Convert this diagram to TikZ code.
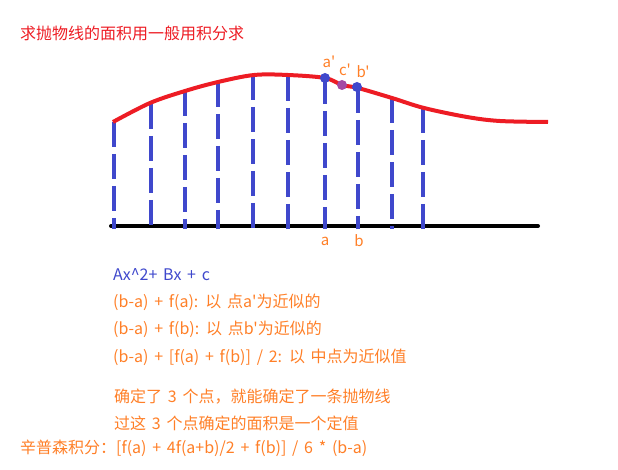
\documentclass[tikz,border=0pt]{standalone}
\usepackage{fontspec}
\newfontfamily\skfont{Noto Sans CJK SC}[WordSpace=1.6]
\usepackage{tikz}
\usetikzlibrary{positioning}
\definecolor{curvered}{HTML}{ED1C24}
\definecolor{stripblue}{HTML}{3F48CC}
\definecolor{noteorange}{HTML}{FF7F27}
\definecolor{midpurple}{HTML}{A349A4}
\tikzset{
  sk txt/.style={anchor=west, inner sep=0pt, font=\skfont\fontsize{16}{19}\selectfont},
  sk note/.style={sk txt, text=noteorange},
  sk tag/.style={inner sep=0pt, text=noteorange, font=\skfont\fontsize{15}{17}\selectfont},
  sk strip/.style={stripblue, line width=4pt, dash pattern=on 25pt off 7pt},
  sk dot/.style={circle, fill=stripblue, inner sep=0pt, minimum size=10pt},
}
\begin{document}
\begin{tikzpicture}[x=1pt, y=-1pt]
  \useasboundingbox (0,0) rectangle (618,470);
  % title
  \node[sk txt, text=curvered] (title) at (20,33) {求抛物线的面积用一般用积分求};
  % axis
  \coordinate (axl) at (111,226);
  \coordinate (axr) at (538,226);
  \draw[black, line width=4pt, line cap=round] (axl) -- (axr);
  % strips under the curve
  \foreach \n/\x/\y in {s1/114/122, s2/151/104, s3/185/91, s4/218/82, s5/253/75,
                        s6/288/76, s7/325/79, s8/358/88, s9/392/98, s10/423/108} {
    \coordinate (\n t) at (\x,\y);
    \coordinate (\n b) at (\x,229);
    \draw[sk strip] (\n t) -- (\n b);
  }
  % curve
  \draw[curvered, line width=4pt] plot[smooth, tension=0.55] coordinates {
    (113,122) (150,103) (185,91) (218,82) (254,75) (288,75) (325,78) (342,85)
    (358,88) (392,98) (424,108) (467,117) (500,121) (548,122)};
  % points a', c', b'
  \node[sk dot] (ap) at (325,78) {};
  \node[circle, fill=midpurple, inner sep=0pt, minimum width=8pt, minimum height=10pt] (cp) at (342,85) {};
  \node[sk dot] (bp) at (357,87) {};
  \node[sk tag] (apl) at (329,62) {a'};
  \node[sk tag] (cpl) at (345,70) {c'};
  \node[sk tag] (bpl) at (363,72) {b'};
  \node[sk tag] (al) at (325,241) {a};
  \node[sk tag] (bl) at (359,241) {b};
  % formulas
  \node[sk txt, text=stripblue] (poly) at (113,275) {Ax\textasciicircum2+ Bx + c};
  \node[sk note] (fa) at (113,302) {(b-a) + f(a): 以 点a'为近似的};
  \node[sk note] (fb) at (113,329) {(b-a) + f(b): 以 点b'为近似的};
  \node[sk note] (fm) at (113,357) {(b-a) + [f(a) + f(b)] / 2: 以 中点为近似值};
  \node[sk note] (n1) at (114,397) {确定了 3 个点，就能确定了一条抛物线};
  \node[sk note] (n2) at (114,423) {过这 3 个点确定的面积是一个定值};
  \node[sk note] (simp) at (20,448) {辛普森积分：[f(a) + 4f(a+b)/2 + f(b)] / 6 * (b-a)};
\end{tikzpicture}
\end{document}
